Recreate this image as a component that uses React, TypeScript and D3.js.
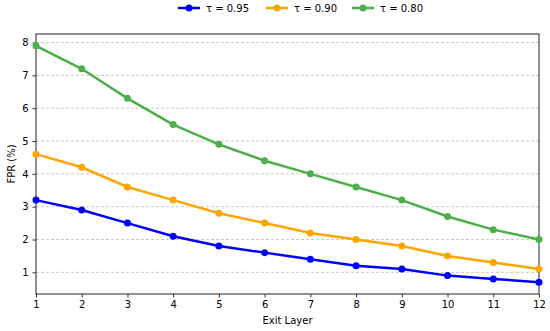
import React, { useEffect, useRef } from "react";
import * as d3 from "d3";

const layers = [1, 2, 3, 4, 5, 6, 7, 8, 9, 10, 11, 12];
const fpr095 = [3.2, 2.9, 2.5, 2.1, 1.8, 1.6, 1.4, 1.2, 1.1, 0.9, 0.8, 0.7];
const fpr090 = [4.6, 4.2, 3.6, 3.2, 2.8, 2.5, 2.2, 2.0, 1.8, 1.5, 1.3, 1.1];
const fpr080 = [7.9, 7.2, 6.3, 5.5, 4.9, 4.4, 4.0, 3.6, 3.2, 2.7, 2.3, 2.0];
const seriesNames = ["τ = 0.95", "τ = 0.90", "τ = 0.80"];
const yTicks = [1, 2, 3, 4, 5, 6, 7, 8];

const App = () => {
  const ref = useRef<SVGSVGElement>(null);

  useEffect(() => {
    const width = 550;
    const height = 331;
    const margin = { top: 34, left: 36, bottom: 37, right: 11 };
    const font = "DejaVu Sans, sans-serif";
    const fs = 10;

    const svg = d3.select(ref.current);
    svg.selectAll("*").remove();

    const series = [
      { name: seriesNames[0], values: fpr095, color: "#0000ff" },
      { name: seriesNames[1], values: fpr090, color: "#ffa500" },
      { name: seriesNames[2], values: fpr080, color: "#4caf4a" },
    ];

    // matplotlib style 5% margin on y
    const all = series.flatMap((s) => s.values);
    const lo = d3.min(all)!;
    const hi = d3.max(all)!;
    const pad = (hi - lo) * 0.05;

    const x = d3
      .scaleLinear()
      .domain([1, 12])
      .range([margin.left, width - margin.right]);
    const y = d3
      .scaleLinear()
      .domain([lo - pad, hi + pad])
      .range([height - margin.bottom, margin.top]);

    // grid
    svg
      .append("g")
      .selectAll("line")
      .data(yTicks)
      .enter()
      .append("line")
      .attr("x1", margin.left)
      .attr("x2", width - margin.right)
      .attr("y1", (d) => y(d))
      .attr("y2", (d) => y(d))
      .attr("stroke", "#bbbbbb")
      .attr("stroke-width", 0.8)
      .attr("stroke-dasharray", "3,2");

    const xAxis = svg
      .append("g")
      .attr("transform", `translate(0, ${height - margin.bottom})`)
      .call(d3.axisBottom(x).tickValues(layers).tickSize(3.5).tickPadding(3).tickFormat(d3.format("d")));
    const yAxis = svg
      .append("g")
      .attr("transform", `translate(${margin.left}, 0)`)
      .call(d3.axisLeft(y).tickValues(yTicks).tickSize(3.5).tickPadding(4).tickFormat(d3.format("d")));

    [xAxis, yAxis].forEach((g) => {
      g.select(".domain").remove();
      g.selectAll("text").attr("font-family", font).attr("font-size", fs).attr("fill", "#000");
      g.selectAll("line").attr("stroke", "#000").attr("stroke-width", 0.8);
    });

    // frame
    svg
      .append("rect")
      .attr("x", margin.left)
      .attr("y", margin.top)
      .attr("width", width - margin.left - margin.right)
      .attr("height", height - margin.top - margin.bottom)
      .attr("fill", "none")
      .attr("stroke", "#222")
      .attr("stroke-width", 1);

    const line = d3
      .line<number>()
      .x((d, i) => x(layers[i]))
      .y((d) => y(d));

    series.forEach((s) => {
      svg
        .append("path")
        .datum(s.values)
        .attr("d", line)
        .attr("fill", "none")
        .attr("stroke", s.color)
        .attr("stroke-width", 2.5);
      svg
        .append("g")
        .selectAll("circle")
        .data(s.values)
        .enter()
        .append("circle")
        .attr("cx", (d, i) => x(layers[i]))
        .attr("cy", (d) => y(d))
        .attr("r", 3.5)
        .attr("fill", s.color);
    });

    // axis labels
    svg
      .append("text")
      .attr("x", (margin.left + width - margin.right) / 2)
      .attr("y", 324)
      .attr("text-anchor", "middle")
      .attr("font-family", font)
      .attr("font-size", fs)
      .text("Exit Layer");
    svg
      .append("text")
      .attr("transform", `translate(15, ${(margin.top + height - margin.bottom) / 2}) rotate(-90)`)
      .attr("text-anchor", "middle")
      .attr("font-family", font)
      .attr("font-size", fs)
      .text("FPR (%)");

    // legend
    const legendX = [178, 266, 352];
    const legend = svg.append("g");
    series.forEach((s, i) => {
      const g = legend.append("g").attr("transform", `translate(${legendX[i]}, 8)`);
      g.append("line").attr("x1", 0).attr("x2", 22).attr("stroke", s.color).attr("stroke-width", 2.5);
      g.append("circle").attr("cx", 11).attr("r", 3.5).attr("fill", s.color);
      g.append("text")
        .attr("x", 28)
        .attr("dy", "0.35em")
        .attr("font-family", font)
        .attr("font-size", fs)
        .text(s.name);
    });
  }, []);

  return (
    <div>
      <svg ref={ref} width={550} height={331} style={{ position: "absolute", left: 0, top: 0, background: "#fff" }} />
    </div>
  );
};

export default App;
